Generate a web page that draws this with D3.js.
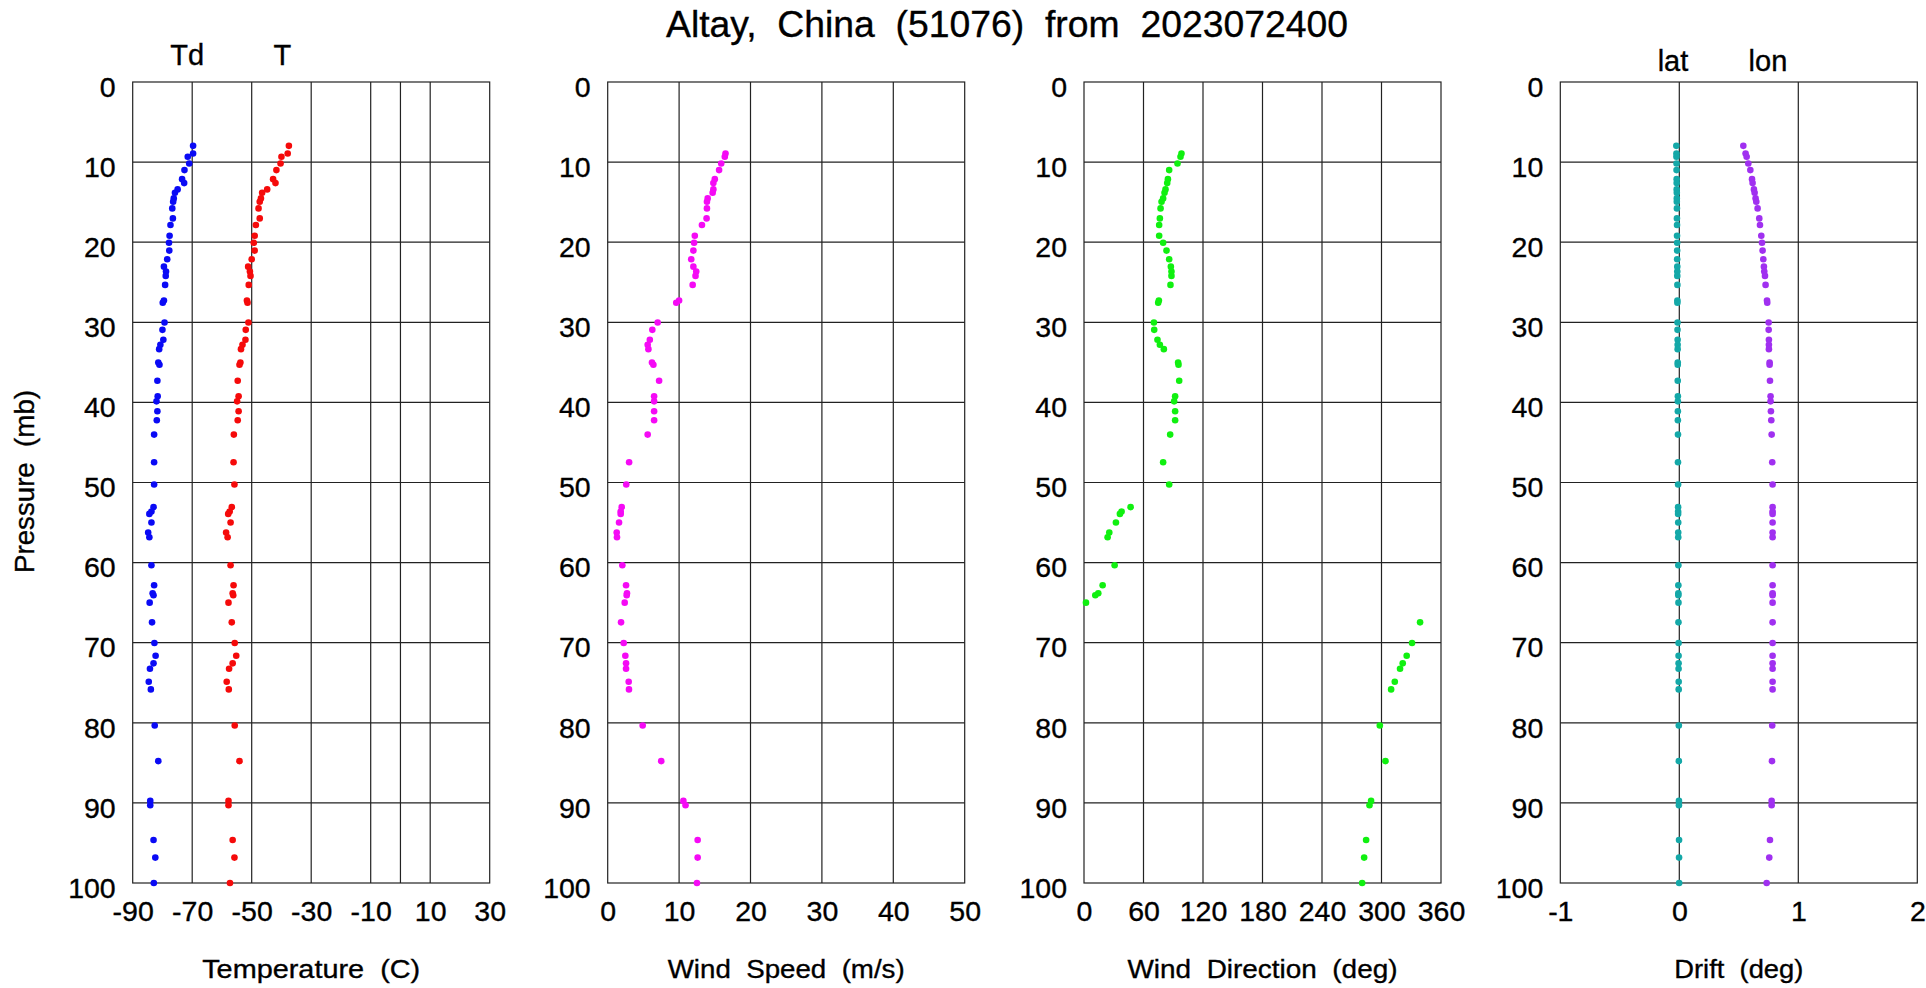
<!DOCTYPE html>
<html><head><meta charset="utf-8">
<script src="https://cdn.jsdelivr.net/npm/d3@7"></script>
<style>
body{margin:0;background:#fff}
svg text{font-family:"Liberation Sans",Arial,Helvetica,sans-serif;fill:#000;stroke:#000;stroke-width:0.35px}
</style>
</head><body>
<svg id="chart" width="1926" height="988"></svg>
<script>
// ---------------- data ----------------
const pressure = [7.97,8.93,9.34,10.17,11.00,12.13,12.62,13.41,13.83,14.53,
  14.95,15.78,17.03,17.86,19.19,20.07,21.05,22.13,23.05,23.67,
  24.21,25.33,27.28,27.55,30.02,30.94,32.18,32.81,33.35,35.01,
  35.30,37.29,39.24,39.87,41.11,42.23,44.02,47.47,50.25,53.08,
  53.63,53.92,55.0,56.25,56.83,60.33,62.83,63.83,64.08,65.0,
  67.46,70.04,71.63,72.58,73.25,74.88,75.83,80.33,84.79,89.75,
  90.29,94.63,96.83,100];
const dewpoint = [-69.7,-69.7,-71.5,-71.0,-72.6,-73.4,-72.7,-74.9,-75.8,-76.2,
  -76.4,-76.7,-76.5,-77.3,-77.6,-77.8,-77.7,-78.4,-79.5,-78.8,
  -78.9,-79.1,-79.5,-79.9,-79.3,-80.0,-79.7,-80.7,-81.1,-81.4,
  -81.0,-81.7,-81.6,-82.0,-81.7,-81.9,-82.8,-82.8,-82.8,-83.0,
  -83.7,-84.4,-83.7,-84.8,-84.4,-83.7,-82.8,-83.3,-83.0,-84.3,
  -83.5,-82.7,-82.3,-83.0,-84.2,-84.6,-83.9,-82.6,-81.4,-84.1,
  -84.1,-83.0,-82.4,-82.9];
const temperature = [-37.5,-37.9,-40.0,-40.3,-41.7,-42.8,-42.0,-44.8,-46.5,-46.9,
  -47.3,-47.7,-47.3,-48.6,-49.0,-49.3,-49.0,-50.0,-51.2,-50.6,
  -50.4,-51.0,-51.6,-51.4,-51.1,-52.0,-52.1,-53.1,-53.6,-53.8,
  -54.1,-54.7,-54.4,-54.9,-54.4,-54.7,-56.0,-56.1,-55.8,-56.7,
  -57.4,-57.9,-57.1,-58.6,-58.1,-57.1,-56.1,-56.4,-56.2,-57.8,
  -56.7,-55.7,-55.2,-56.4,-57.6,-58.4,-57.7,-55.7,-54.1,-57.8,
  -57.8,-56.4,-55.8,-57.3];
const windSpeed = [null,16.5,16.4,15.9,15.6,15.0,14.8,14.8,14.7,14.0,
  13.9,13.9,13.85,13.2,12.2,12.1,12.0,11.7,12.0,12.4,
  12.3,11.9,10.0,9.6,7.0,6.25,5.9,5.6,5.7,6.2,
  6.4,7.2,6.5,6.5,6.5,6.5,5.6,3.0,2.6,1.96,
  1.82,1.82,1.59,1.26,1.3,2.05,2.57,2.7,2.66,2.38,
  1.87,2.24,2.47,2.57,2.57,2.94,2.98,4.9,7.5,10.6,
  10.9,12.6,12.6,12.5];
const windDir = [null,98.3,97.3,94.3,85.9,84.6,83.9,82.2,81.2,79.8,
  78.2,77.2,76.5,75.8,75.8,79.8,83.2,85.9,87.6,88.2,
  88.2,87.2,75.5,74.8,70.5,70.8,74.1,76.5,80.5,94.9,
  95.3,96.0,91.9,90.9,91.9,91.9,86.9,79.8,85.9,47.0,
  37.9,36.2,32.2,25.5,23.8,30.9,18.8,14.4,11.4,2.0,
  338.9,330.8,325.4,321.4,318.7,313.4,309.7,298.3,304.0,289.5,
  287.9,284.5,282.5,280.5];
const driftLat = [-0.025,-0.024,-0.024,-0.023,-0.023,-0.022,-0.022,-0.022,-0.021,-0.021,
  -0.021,-0.020,-0.020,-0.019,-0.019,-0.018,-0.018,-0.018,-0.017,-0.017,
  -0.017,-0.016,-0.016,-0.016,-0.015,-0.015,-0.014,-0.014,-0.014,-0.013,
  -0.013,-0.013,-0.012,-0.012,-0.012,-0.012,-0.011,-0.011,-0.010,-0.010,
  -0.010,-0.010,-0.009,-0.009,-0.009,-0.008,-0.008,-0.008,-0.008,-0.007,
  -0.007,-0.006,-0.006,-0.006,-0.006,-0.005,-0.005,-0.004,-0.004,-0.003,
  -0.003,-0.002,-0.002,-0.001];
const driftLon = [0.538,0.557,0.566,0.580,0.597,0.611,0.616,0.627,0.633,0.641,
  0.647,0.658,0.672,0.678,0.689,0.695,0.700,0.706,0.711,0.714,
  0.720,0.725,0.737,0.739,0.751,0.751,0.753,0.753,0.753,0.759,
  0.759,0.762,0.767,0.767,0.770,0.773,0.776,0.781,0.784,0.784,
  0.784,0.784,0.784,0.784,0.784,0.784,0.784,0.784,0.784,0.784,
  0.784,0.784,0.784,0.784,0.784,0.784,0.784,0.781,0.779,0.776,
  0.776,0.762,0.756,0.734];

const pressureTicks = [0,10,20,30,40,50,60,70,80,90,100];
const tempTicks = [-90,-70,-50,-30,-10,10,30];
const tempGrid = [-70,-50,-30,-10,0,10];
const speedTicks = [0,10,20,30,40,50];
const dirTicks = [0,60,120,180,240,300,360];
const driftTicks = [-1,0,1,2];

const titleText = "Altay,  China  (51076)  from  2023072400";

// ---------------- layout ----------------
const svg = d3.select("#chart");
svg.append("rect").attr("width",1926).attr("height",988).attr("fill","#fff");

const plotTop = 82, plotBottom = 883, panelW = 357;
const y = d3.scaleLinear().domain([0,100]).range([plotTop,plotBottom]);
const fmt = d => String(d);

const panels = [
  {left:132.7, domain:[-90,30], ticks:tempTicks, grid:tempGrid, title:"Temperature  (C)", titleW:218,
   series:[{vals:dewpoint,color:"#0a0af5"},{vals:temperature,color:"#f50a0a"}],
   labels:[{t:"Td",x:-71.7,y:65},{t:"T",x:-39.7,y:65}]},
  {left:607.7, domain:[0,50], ticks:speedTicks, grid:[10,20,30,40], title:"Wind  Speed  (m/s)", titleW:237,
   series:[{vals:windSpeed,color:"#f50af5"}], labels:[]},
  {left:1084, domain:[0,360], ticks:dirTicks, grid:[60,120,180,240,300], title:"Wind  Direction  (deg)", titleW:270,
   series:[{vals:windDir,color:"#10f010"}], labels:[]},
  {left:1560.3, domain:[-1,2], ticks:driftTicks, grid:[0,1], title:"Drift  (deg)", titleW:129,
   series:[{vals:driftLat,color:"#14a8a8"},{vals:driftLon,color:"#a030f0"}],
   labels:[{t:"lat",x:-0.053,y:70.5},{t:"lon",x:0.745,y:70.5}]}
];

const lineColor = "#222";

panels.forEach(p => {
  const x = d3.scaleLinear().domain(p.domain).range([p.left, p.left+panelW]);
  const g = svg.append("g");

  // horizontal grid
  g.append("g").selectAll("line").data(pressureTicks.slice(1,-1)).join("line")
    .attr("x1",p.left).attr("x2",p.left+panelW)
    .attr("y1",d=>y(d)).attr("y2",d=>y(d))
    .attr("stroke",lineColor).attr("stroke-width",1.2);
  // vertical grid
  g.append("g").selectAll("line").data(p.grid).join("line")
    .attr("x1",d=>x(d)).attr("x2",d=>x(d))
    .attr("y1",plotTop).attr("y2",plotBottom)
    .attr("stroke",lineColor).attr("stroke-width",1.2);
  // frame
  g.append("rect").attr("x",p.left).attr("y",plotTop).attr("width",panelW).attr("height",plotBottom-plotTop)
    .attr("fill","none").attr("stroke",lineColor).attr("stroke-width",1.2);

  // y axis
  const ya = d3.axisLeft(y).tickValues(pressureTicks).tickSize(0).tickPadding(17).tickFormat(fmt);
  const yg = g.append("g").attr("transform",`translate(${p.left},0)`).call(ya);
  yg.select(".domain").remove();
  yg.selectAll("text").attr("font-size",28.5).attr("dy","0.5em").attr("fill","#000");

  // x axis
  const xa = d3.axisBottom(x).tickValues(p.ticks).tickSize(0).tickPadding(18).tickFormat(fmt);
  const xg = g.append("g").attr("transform",`translate(0,${plotBottom})`).call(xa);
  xg.select(".domain").remove();
  xg.selectAll("text").attr("font-size",28.5).attr("dy","0.71em").attr("fill","#000");

  // x title
  g.append("text").attr("x",p.left+panelW/2).attr("y",978).attr("text-anchor","middle")
    .attr("font-size",26).attr("textLength",p.titleW).attr("lengthAdjust","spacingAndGlyphs")
    .style("white-space","pre").text(p.title);

  // series
  p.series.forEach(s => {
    const pts = pressure.map((pr,i)=>({p:pr,v:s.vals[i]})).filter(d=>d.v!=null);
    g.append("g").selectAll("circle").data(pts).join("circle")
      .attr("cx",d=>x(d.v)).attr("cy",d=>y(d.p)).attr("r",3.3).attr("fill",s.color);
  });

  // series labels
  p.labels.forEach(l => {
    g.append("text").attr("x",x(l.x)).attr("y",l.y).attr("text-anchor","middle")
      .attr("font-size",29).text(l.t);
  });
});

// y axis title
svg.append("text").attr("transform","translate(33.5,481.5) rotate(-90)")
  .attr("text-anchor","middle").attr("font-size",27)
  .attr("textLength",183).attr("lengthAdjust","spacingAndGlyphs")
  .style("white-space","pre").text("Pressure  (mb)");

// main title
svg.append("text").attr("x",1007).attr("y",37.3).attr("text-anchor","middle")
  .attr("font-size",37).attr("textLength",682).attr("lengthAdjust","spacingAndGlyphs")
  .style("white-space","pre").text(titleText);
</script>
</body></html>
